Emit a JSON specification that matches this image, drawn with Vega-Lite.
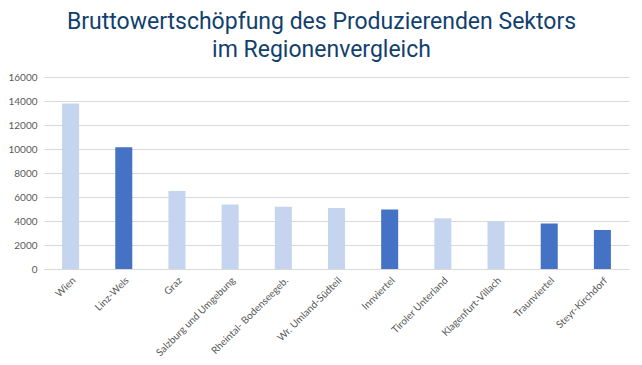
{
  "$schema": "https://vega.github.io/schema/vega-lite/v6.json",
  "width": 585,
  "height": 192,
  "autosize": {"type": "none"},
  "padding": {"left": 44, "top": 77, "right": 13, "bottom": 96},
  "background": "white",
  "title": {
    "text": ["Bruttowertschöpfung des Produzierenden Sektors", "im Regionenvergleich"],
    "font": "Roboto",
    "fontSize": 23,
    "fontWeight": "normal",
    "color": "#123f6e",
    "anchor": "middle",
    "dx": -15,
    "offset": 10,
    "lineHeight": 28
  },
  "data": {
    "values": [
      {"region": "Wien", "wert": 13800, "gruppe": "andere"},
      {"region": "Linz-Wels", "wert": 10150, "gruppe": "OÖ"},
      {"region": "Graz", "wert": 6500, "gruppe": "andere"},
      {"region": "Salzburg und Umgebung", "wert": 5380, "gruppe": "andere"},
      {"region": "Rheintal- Bodenseegeb.", "wert": 5180, "gruppe": "andere"},
      {"region": "Wr. Umland-Südteil", "wert": 5080, "gruppe": "andere"},
      {"region": "Innviertel", "wert": 4950, "gruppe": "OÖ"},
      {"region": "Tiroler Unterland", "wert": 4220, "gruppe": "andere"},
      {"region": "Klagenfurt-Villach", "wert": 3980, "gruppe": "andere"},
      {"region": "Traunviertel", "wert": 3800, "gruppe": "OÖ"},
      {"region": "Steyr-Kirchdorf", "wert": 3250, "gruppe": "OÖ"}
    ]
  },
  "mark": {"type": "bar"},
  "encoding": {
    "x": {
      "field": "region",
      "type": "nominal",
      "sort": null,
      "title": null,
      "scale": {"paddingInner": 0.68, "paddingOuter": 0.34},
      "axis": {
        "labelAngle": -45,
        "labelFont": "Lato",
        "labelFontSize": 10,
        "labelColor": "#595959",
        "ticks": false,
        "domainColor": "#d9d9d9",
        "labelPadding": 6
      }
    },
    "y": {
      "field": "wert",
      "type": "quantitative",
      "title": null,
      "scale": {"domain": [0, 16000]},
      "axis": {
        "values": [0, 2000, 4000, 6000, 8000, 10000, 12000, 14000, 16000],
        "format": "d",
        "labelFont": "Lato",
        "labelFontSize": 10,
        "labelColor": "#595959",
        "ticks": false,
        "domain": false,
        "gridColor": "#d9d9d9",
        "labelPadding": 7
      }
    },
    "color": {
      "field": "gruppe",
      "type": "nominal",
      "scale": {"domain": ["andere", "OÖ"], "range": ["#c5d4ef", "#4472c4"]},
      "legend": null
    }
  },
  "config": {"view": {"stroke": null}}
}
